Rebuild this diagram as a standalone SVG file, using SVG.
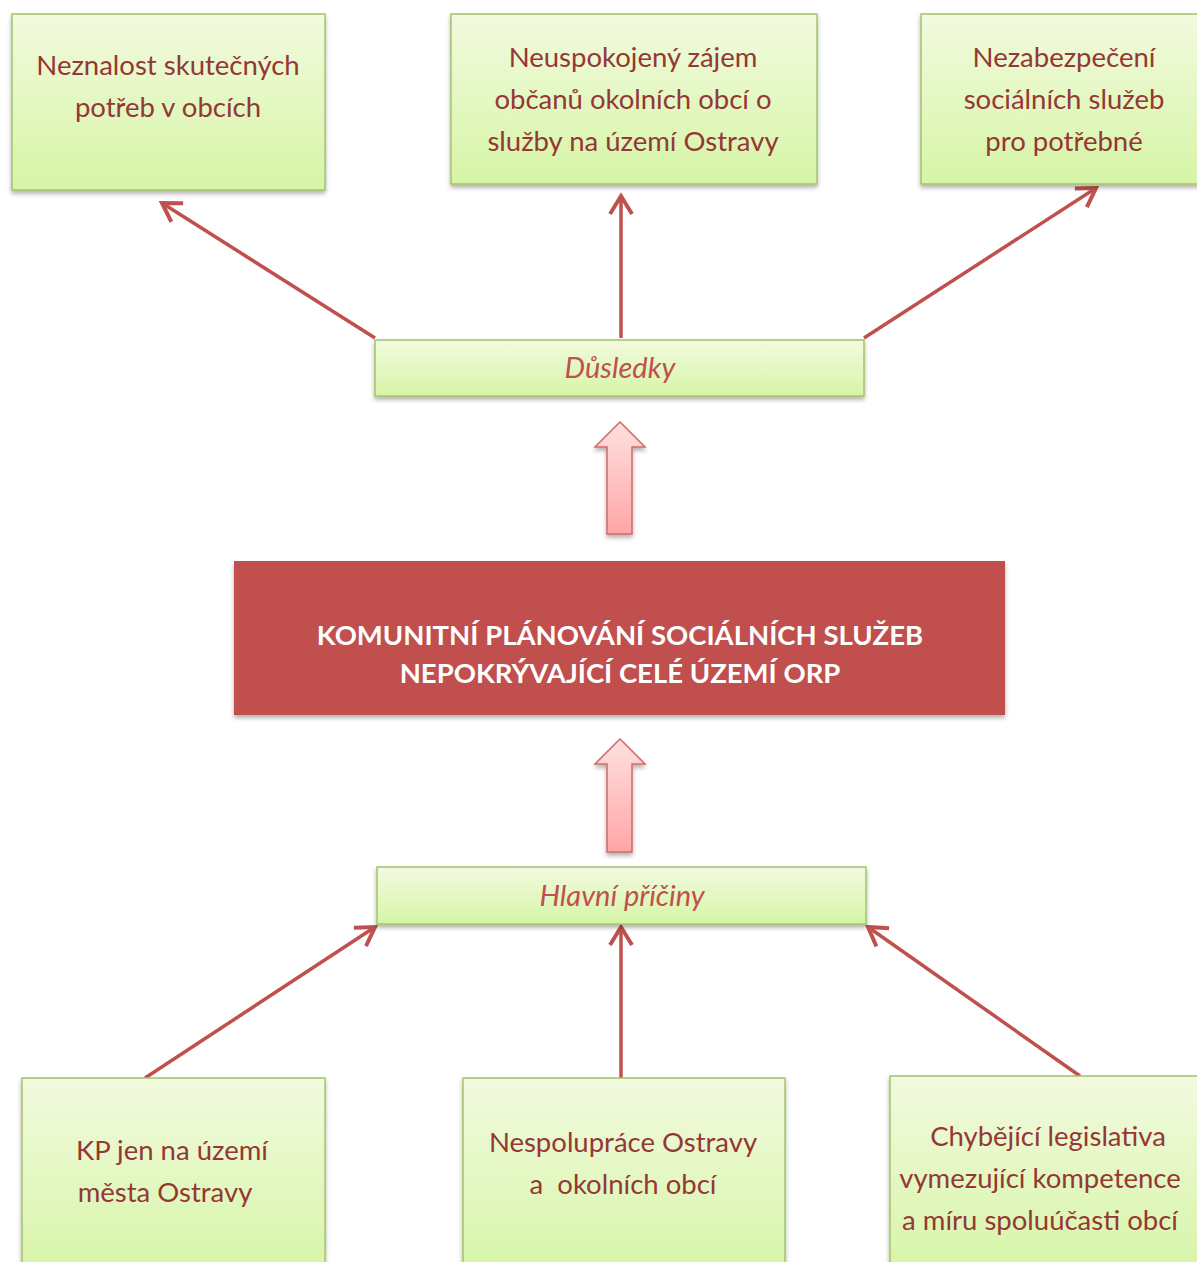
<svg xmlns="http://www.w3.org/2000/svg" width="1197" height="1262" viewBox="0 0 1197 1262">
<defs>
<linearGradient id="gGreen" x1="0" y1="0" x2="0" y2="1">
<stop offset="0" stop-color="#F2FADF"/>
<stop offset="1" stop-color="#D6F5A6"/>
</linearGradient>
<linearGradient id="gPink" x1="0" y1="0" x2="0" y2="1">
<stop offset="0" stop-color="#FFE0E0"/>
<stop offset="1" stop-color="#FFA6A6"/>
</linearGradient>
<filter id="sh" x="-10%" y="-10%" width="120%" height="130%">
<feDropShadow dx="0" dy="3" stdDeviation="2" flood-color="#000" flood-opacity="0.3"/>
</filter>
<marker id="arr" markerUnits="userSpaceOnUse" markerWidth="40" markerHeight="40" viewBox="-30 -20 40 40" refX="0" refY="0" orient="auto" overflow="visible">
<path d="M-18,-11 L0,0 L-18,11" fill="none" stroke="#C0504D" stroke-width="4" stroke-linejoin="miter"/>
</marker>
<style>
.box{fill:url(#gGreen);stroke:#A3C46A;stroke-width:1.5;filter:url(#sh)}
.t{font-family:Lato,"Open Sans","Noto Sans",sans-serif;font-size:27.5px;fill:#953735;text-anchor:middle}
.lbl{font-family:Lato,"Open Sans","Noto Sans",sans-serif;font-size:29px;font-style:italic;fill:#C0504D;text-anchor:middle}
.main{font-family:Lato,"Open Sans","Noto Sans",sans-serif;font-size:27.5px;font-weight:bold;fill:#FFFFFF;text-anchor:middle}
.con{stroke:#C0504D;stroke-width:3.5;fill:none;marker-end:url(#arr)}
.blk{fill:url(#gPink);stroke:#D06A67;stroke-width:1.5;filter:url(#sh)}
</style>
</defs>
<rect width="1197" height="1262" fill="#FFFFFF"/>

<g id="connectors">
<line class="con" x1="375" y1="338" x2="162" y2="203"/>
<line class="con" x1="621" y1="338" x2="621" y2="196"/>
<line class="con" x1="864" y1="338" x2="1096" y2="188"/>
<line class="con" x1="145" y1="1078" x2="375" y2="927"/>
<line class="con" x1="621" y1="1078" x2="621" y2="927"/>
<line class="con" x1="1080" y1="1076" x2="868" y2="927"/>
<path class="blk" d="M620,422 L645,447 L632,447 L632,534 L607,534 L607,447 L595,447 Z"/>
<path class="blk" d="M620,739 L645,764 L632,764 L632,852 L607,852 L607,764 L595,764 Z"/>
</g>

<g id="n-neznalost">
<rect class="box" x="12" y="14" width="313" height="176"/>
<text class="t" x="168" y="75">Neznalost skutečných</text>
<text class="t" x="168" y="117">potřeb v obcích</text>
</g>

<g id="n-neuspokojeny">
<rect class="box" x="451" y="14" width="366" height="170"/>
<text class="t" x="633" y="67">Neuspokojený zájem</text>
<text class="t" x="633" y="109">občanů okolních obcí o</text>
<text class="t" x="633" y="151">služby na území Ostravy</text>
</g>

<g id="n-nezabezpeceni">
<rect class="box" x="921" y="14" width="290" height="170"/>
<text class="t" x="1064" y="67">Nezabezpečení</text>
<text class="t" x="1064" y="109">sociálních služeb</text>
<text class="t" x="1064" y="151">pro potřebné</text>
</g>

<g id="n-dusledky">
<rect class="box" x="375" y="340" width="489" height="56"/>
<text class="lbl" x="620" y="378">Důsledky</text>
</g>

<g id="n-main">
<rect x="234" y="561" width="771" height="154" fill="#C0504D" filter="url(#sh)"/>
<text class="main" x="620" y="645">KOMUNITNÍ PLÁNOVÁNÍ SOCIÁLNÍCH SLUŽEB</text>
<text class="main" x="620" y="683">NEPOKRÝVAJÍCÍ CELÉ ÚZEMÍ ORP</text>
</g>

<g id="n-priciny">
<rect class="box" x="377" y="867" width="489" height="57"/>
<text class="lbl" x="622" y="906">Hlavní příčiny</text>
</g>

<g id="n-kp">
<rect class="box" x="22" y="1078" width="303" height="200"/>
<text class="t" x="172" y="1160">KP jen na území</text>
<text class="t" x="165" y="1202">města Ostravy</text>
</g>

<g id="n-nespoluprace">
<rect class="box" x="463" y="1078" width="322" height="200"/>
<text class="t" x="623" y="1152">Nespolupráce Ostravy</text>
<text class="t" x="623" y="1194" xml:space="preserve">a  okolních obcí</text>
</g>

<g id="n-legislativa">
<rect class="box" x="890" y="1076" width="320" height="200"/>
<text class="t" x="1048" y="1146">Chybějící legislativa</text>
<text class="t" x="1040" y="1188">vymezující kompetence</text>
<text class="t" x="1040" y="1230">a míru spoluúčasti obcí</text>
</g>
</svg>
